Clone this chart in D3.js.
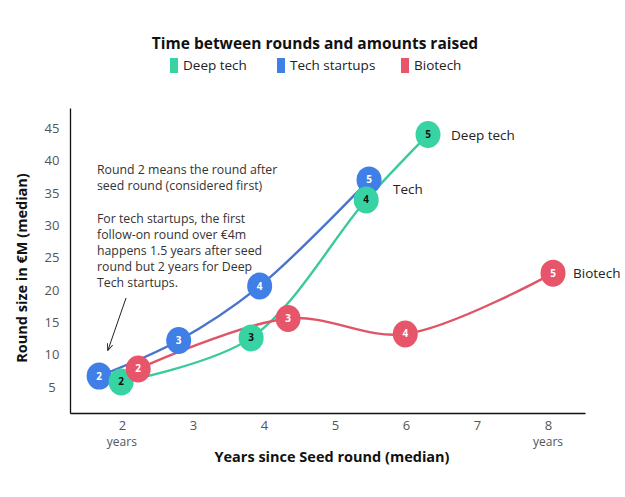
<!DOCTYPE html>
<html>
<head>
<meta charset="utf-8">
<script src="https://cdn.jsdelivr.net/npm/d3@7"></script>
<style>
  body { margin: 0; background: #fff; }
  svg text { font-family: "Open Sans", "Noto Sans", sans-serif; }
</style>
</head>
<body>
<div id="chart"></div>
<script>
// Series data (years since seed, round size in €M)
const roundLabels = ["2", "3", "4", "5"];
const deepTechYears = [1.99, 3.82, 5.44, 6.31];
const deepTechSize = [5.8, 12.6, 33.9, 44.0];
const techYears = [1.68, 2.8, 3.94, 5.48];
const techSize = [6.7, 12.2, 20.6, 37.0];
const biotechYears = [2.23, 4.34, 5.99, 8.07];
const biotechSize = [7.8, 15.6, 13.2, 22.6];

const xTicks = [2, 3, 4, 5, 6, 7, 8];
const yTicks = [5, 10, 15, 20, 25, 30, 35, 40, 45];

const legendNames = ["Deep tech", "Tech startups", "Biotech"];
const endLabels = ["Deep tech", "Tech", "Biotech"];
const noteLines = [
    "Round 2 means the round after",
    "seed round (considered first)",
    "",
    "For tech startups, the first",
    "follow-on round over €4m",
    "happens 1.5 years after seed",
    "round but 2 years for Deep",
    "Tech startups."
];

const width = 625, height = 497;

let svg = d3.select("#chart").append("svg")
    .attr("width", width)
    .attr("height", height);

// scales
let x = d3.scaleLinear().domain([1.27, 8.52]).range([70, 585]);
let y = d3.scaleLinear().domain([1, 48.1]).range([413, 108]);

// series list built from arrays
let series = [
    {name: "Deep tech", years: deepTechYears, size: deepTechSize, fill: "#38d3a2", stroke: "#3cc99b", text: "#111", label: endLabels[0], dx: 23},
    {name: "Tech", years: techYears, size: techSize, fill: "#3f7fe6", stroke: "#4a74cc", text: "#fff", label: endLabels[1], dx: 24, dy: 9},
    {name: "Biotech", years: biotechYears, size: biotechSize, fill: "#e7556a", stroke: "#e05466", text: "#fff", label: endLabels[2], dx: 20}
];

// Title + legend
svg.append("text")
    .attr("x", 315).attr("y", 49)
    .attr("text-anchor", "middle")
    .style("font-size", "15.5px").style("font-weight", "bold").attr("fill", "#111")
    .text("Time between rounds and amounts raised");

let legendX = [170, 277, 401];
let legendColors = ["#38d3a2", "#3f7fe6", "#e7556a"];
legendNames.forEach(function (n, i) {
    svg.append("rect")
        .attr("x", legendX[i]).attr("y", 58)
        .attr("width", 8).attr("height", 15)
        .attr("fill", legendColors[i]);
    svg.append("text")
        .attr("x", legendX[i] + 13).attr("y", 70)
        .style("font-size", "13.5px").attr("fill", "#222")
        .text(n);
});

// Axes
let xAxis = d3.axisBottom(x).tickValues(xTicks).tickSize(0).tickPadding(8);
let yAxis = d3.axisLeft(y).tickValues(yTicks).tickSize(0).tickPadding(11);

let gx = svg.append("g").attr("transform", "translate(0,413)").call(xAxis);
let gy = svg.append("g").attr("transform", "translate(70,0)").call(yAxis);

[gx, gy].forEach(function (g) {
    g.select(".domain").attr("stroke", "#111").attr("stroke-width", 1.3);
    g.selectAll(".tick text").style("font-size", "13px").attr("fill", "#555")
        .style("font-family", "'Open Sans', sans-serif");
});
gy.selectAll(".tick text").attr("text-anchor", "middle").attr("x", -18);

// "years" under 2 and 8
[2, 8].forEach(function (v) {
    svg.append("text")
        .attr("x", x(v)).attr("y", 446)
        .attr("text-anchor", "middle")
        .style("font-size", "12px").attr("fill", "#555")
        .text("years");
});

// Axis titles
svg.append("text")
    .attr("x", 332).attr("y", 462)
    .attr("text-anchor", "middle")
    .style("font-size", "14.5px").style("font-weight", "bold").attr("fill", "#111")
    .text("Years since Seed round (median)");

svg.append("text")
    .attr("transform", "translate(27,268) rotate(-90)")
    .attr("text-anchor", "middle")
    .style("font-size", "14.5px").style("font-weight", "bold").attr("fill", "#111")
    .text("Round size in €M (median)");

// Annotation
let note = svg.append("text")
    .attr("x", 97).attr("y", 174)
    .style("font-size", "12.3px").attr("fill", "#333");
noteLines.forEach(function (l, i) {
    note.append("tspan").attr("x", 97).attr("y", 174 + i * 16.2).text(l);
});

svg.append("defs").append("marker")
    .attr("id", "arrow")
    .attr("viewBox", "0 0 10 10")
    .attr("refX", 9).attr("refY", 5)
    .attr("markerWidth", 7).attr("markerHeight", 7)
    .attr("orient", "auto")
    .append("path").attr("d", "M0,1 L10,5 L0,9").attr("fill", "none")
    .attr("stroke", "#222").attr("stroke-width", 1.3);

svg.append("line")
    .attr("x1", 126).attr("y1", 298)
    .attr("x2", 108).attr("y2", 350)
    .attr("stroke", "#222").attr("stroke-width", 1)
    .attr("marker-end", "url(#arrow)");

// Lines
let line = d3.line()
    .x(function (d) { return x(d.year); })
    .y(function (d) { return y(d.size); })
    .curve(d3.curveCatmullRom.alpha(0.5));

series.forEach(function (s) {
    s.points = s.years.map(function (yr, i) {
        return {year: yr, size: s.size[i], round: roundLabels[i]};
    });
});

series.forEach(function (s) {
    svg.append("path")
        .attr("d", line(s.points))
        .attr("fill", "none")
        .attr("stroke", s.stroke)
        .attr("stroke-width", 2.4);
});

// Circles and round numbers (draw order: tech, deep tech, biotech)
[series[1], series[0], series[2]].forEach(function (s) {
    let g = svg.append("g");
    g.selectAll("ellipse")
        .data(s.points)
        .enter().append("ellipse")
        .attr("cx", function (d) { return x(d.year); })
        .attr("cy", function (d) { return y(d.size); })
        .attr("rx", 12.5).attr("ry", 13.5)
        .attr("fill", s.fill);
    g.selectAll("text")
        .data(s.points)
        .enter().append("text")
        .attr("x", function (d) { return x(d.year); })
        .attr("y", function (d) { return y(d.size) + 3.5; })
        .attr("text-anchor", "middle")
        .style("font-size", "10px").style("font-weight", "bold")
        .attr("fill", s.text)
        .text(function (d) { return d.round; });

    let last = s.points[s.points.length - 1];
    svg.append("text")
        .attr("x", x(last.year) + s.dx)
        .attr("y", y(last.size) + (s.dy || 0) + 5)
        .style("font-size", "13.5px").attr("fill", "#222")
        .text(s.label);
});
</script>
</body>
</html>
